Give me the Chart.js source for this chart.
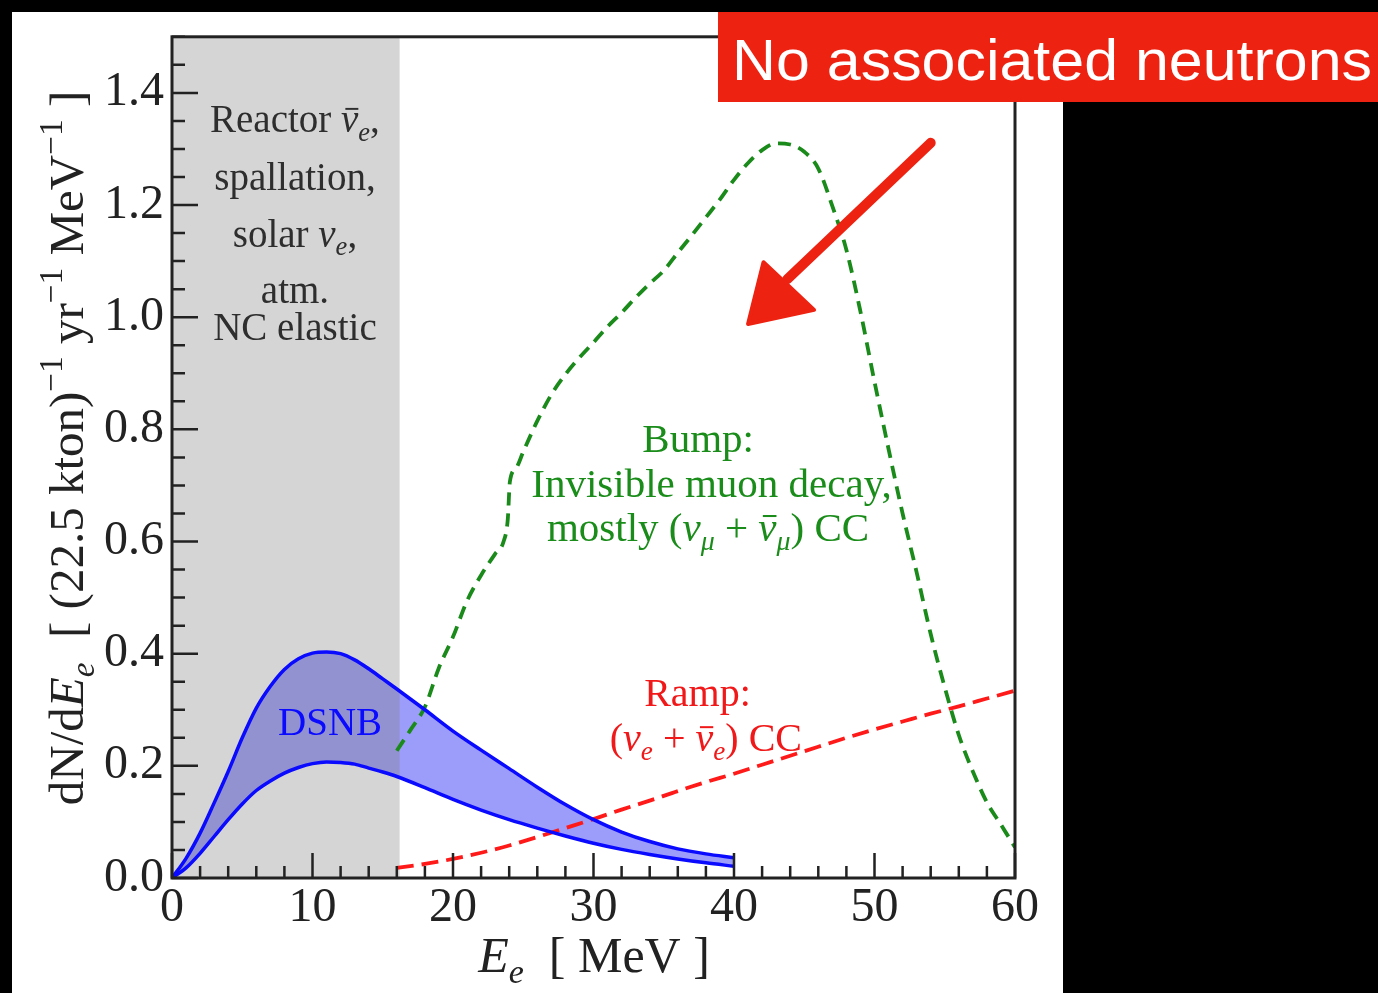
<!DOCTYPE html>
<html>
<head>
<meta charset="utf-8">
<title>Event spectra</title>
<script src="https://cdn.jsdelivr.net/npm/chart.js@4.4.1/dist/chart.umd.min.js"></script>
<style>
  html, body { margin: 0; padding: 0; background: #000; }
  #myChart { display: block; }
</style>
</head>
<body>
<canvas id="myChart" width="1378" height="993"></canvas>
<script>
// Positron energy grid (MeV) and rates for the DSNB band
const dsnbE    = [0, 1, 2, 3, 4, 5, 6, 7, 8, 9, 10, 11, 12, 13, 14, 15, 16, 18, 20, 22, 24, 26, 28, 30, 32, 34, 36, 38, 40];
const dsnbHigh = [0, 0.035, 0.080, 0.134, 0.190, 0.250, 0.303, 0.342, 0.372, 0.391, 0.401, 0.403, 0.400, 0.389, 0.373, 0.355, 0.337,
                  0.300, 0.262, 0.228, 0.195, 0.162, 0.131, 0.104, 0.082, 0.065, 0.052, 0.043, 0.036];
const dsnbLow  = [0, 0.018, 0.044, 0.074, 0.104, 0.132, 0.156, 0.173, 0.187, 0.197, 0.204, 0.207, 0.206, 0.203, 0.196, 0.189, 0.181,
                  0.161, 0.140, 0.121, 0.104, 0.089, 0.075, 0.062, 0.051, 0.042, 0.034, 0.027, 0.021];

// Invisible muon decay bump
const bumpE    = [16, 17, 18, 19, 20, 21, 22, 23, 23.6, 23.9, 24.05, 24.5, 25, 26, 27, 28, 29, 30, 31, 32, 33, 34, 35, 36, 37, 38, 39,
                  40, 41, 42, 43, 44, 45, 46, 47, 48, 49, 50, 51, 52, 53, 54, 55, 56, 57, 58, 59, 60];
const bumpRate = [0.227, 0.265, 0.305, 0.375, 0.430, 0.494, 0.540, 0.578, 0.600, 0.640, 0.707, 0.731, 0.760, 0.815, 0.862, 0.898,
                  0.928, 0.955, 0.983, 1.008, 1.035, 1.060, 1.083, 1.115, 1.146, 1.178, 1.210, 1.245, 1.275, 1.298, 1.310, 1.308,
                  1.295, 1.265, 1.198, 1.120, 1.010, 0.885, 0.765, 0.650, 0.545, 0.435, 0.340, 0.255, 0.190, 0.135, 0.095, 0.055];

// Atmospheric (nu_e + nubar_e) CC ramp
const rampE    = [16, 18, 20, 22, 24, 26, 28, 30, 32, 34, 36, 38, 40, 42, 44, 46, 48, 50, 52, 54, 56, 58, 60];
const rampRate = [0.018, 0.025, 0.034, 0.045, 0.058, 0.073, 0.089, 0.105, 0.122, 0.138, 0.155, 0.171, 0.186, 0.202, 0.218,
                  0.234, 0.250, 0.265, 0.279, 0.293, 0.306, 0.320, 0.334];

// Axes
const xTickValues = [0, 10, 20, 30, 40, 50, 60];
const yTickValues = [0, 0.2, 0.4, 0.6, 0.8, 1.0, 1.2, 1.4];
const xMinorStep = 2;
const yMinorStep = 0.05;
const xMax = 60;
const yMax = 1.5;
const shadedUpTo = 16.2; // background-dominated region

const SERIF = '"Liberation Serif", "Times New Roman", serif';

function toPoints(xs, ys) {
  return xs.map((x, i) => ({ x: x, y: ys[i] }));
}

// --- rich text (italic, sub/superscript, overbar) ---
function fontFor(s, size) {
  const sz = (s.sub || s.sup) ? size * 0.68 : size;
  return (s.it ? 'italic ' : '') + sz.toFixed(1) + 'px ' + SERIF;
}
function richWidth(ctx, segs, size) {
  let w = 0;
  segs.forEach(s => { ctx.font = fontFor(s, size); w += ctx.measureText(s.t).width; });
  return w;
}
function drawRich(ctx, segs, x, y, size, color) {
  const w = richWidth(ctx, segs, size);
  let cx = x - w / 2;
  ctx.fillStyle = color;
  ctx.strokeStyle = color;
  ctx.textAlign = 'left';
  ctx.textBaseline = 'alphabetic';
  segs.forEach(s => {
    ctx.font = fontFor(s, size);
    const sw = ctx.measureText(s.t).width;
    let dy = 0;
    if (s.sub) dy = size * 0.22;
    if (s.sup) dy = -size * 0.42;
    ctx.fillText(s.t, cx, y + dy);
    if (s.bar) {
      ctx.lineWidth = size * 0.05;
      ctx.beginPath();
      ctx.moveTo(cx + sw * 0.25, y - size * 0.6);
      ctx.lineTo(cx + sw * 1.0, y - size * 0.6);
      ctx.stroke();
    }
    cx += sw;
  });
}

const nu = { t: 'ν', it: true };
const nubar = { t: 'ν', it: true, bar: true };
const sub = t => ({ t: t, it: true, sub: true });
const txt = t => ({ t: t });

// labels placed in data coordinates (centre of each line)
const GREY_TXT = '#2e2e2e', GREEN = '#1a8c1a', RED = '#f01818', BLUE = '#0a0aff';
const notes = [
  { e: 8.75, v: 1.352, size: 39, color: GREY_TXT, segs: [txt('Reactor '), nubar, sub('e'), txt(',')] },
  { e: 8.75, v: 1.249, size: 39, color: GREY_TXT, segs: [txt('spallation,')] },
  { e: 8.75, v: 1.148, size: 39, color: GREY_TXT, segs: [txt('solar '), nu, sub('e'), txt(',')] },
  { e: 8.75, v: 1.048, size: 39, color: GREY_TXT, segs: [txt('atm.')] },
  { e: 8.75, v: 0.982, size: 39, color: GREY_TXT, segs: [txt('NC elastic')] },
  { e: 37.45, v: 0.783, size: 41, color: GREEN, segs: [txt('Bump:')] },
  { e: 38.4, v: 0.702, size: 41, color: GREEN, segs: [txt('Invisible muon decay,')] },
  { e: 38.15, v: 0.625, size: 41, color: GREEN, segs: [txt('mostly ('), nu, sub('μ'), txt(' + '), nubar, sub('μ'), txt(') CC')] },
  { e: 37.4, v: 0.330, size: 40, color: RED, segs: [txt('Ramp:')] },
  { e: 38.0, v: 0.249, size: 40, color: RED, segs: [txt('('), nu, sub('e'), txt(' + '), nubar, sub('e'), txt(') CC')] },
  { e: 11.25, v: 0.277, size: 39, color: BLUE, segs: [txt('DSNB')] }
];

// hand-drawn arrow, data coordinates
const arrowTail = { e: 54.0, v: 1.311 };
const arrowNeck = { e: 43.8, v: 1.068 };
const arrowHead = [{ e: 41.0, v: 0.988 }, { e: 42.1, v: 1.098 }, { e: 45.7, v: 1.013 }];

const figurePlugin = {
  id: 'figure',
  beforeDraw(chart) {
    const c = chart.ctx;
    c.save();
    c.fillStyle = '#000';
    c.fillRect(0, 0, chart.width, chart.height);
    c.fillStyle = '#fff';
    c.fillRect(12, 12, 1051, chart.height - 12);
    c.restore();
  },
  beforeDatasetsDraw(chart) {
    // shaded region laid over the band fill, under the curves
    const c = chart.ctx, a = chart.chartArea, xs = chart.scales.x;
    c.save();
    c.fillStyle = 'rgba(123,123,123,0.32)';
    const x0 = xs.getPixelForValue(0), x1 = xs.getPixelForValue(shadedUpTo);
    c.fillRect(x0, a.top, x1 - x0, a.bottom - a.top);
    c.restore();
  },
  afterDatasetsDraw(chart) {
    const c = chart.ctx, a = chart.chartArea, xs = chart.scales.x, ys = chart.scales.y;
    c.save();
    // inward ticks
    c.strokeStyle = '#222';
    c.lineWidth = 2.5;
    c.beginPath();
    for (let v = 0; v <= xMax + 1e-9; v += xMinorStep) {
      const px = xs.getPixelForValue(v);
      const major = xTickValues.some(t => Math.abs(t - v) < 1e-6);
      c.moveTo(px, a.bottom);
      c.lineTo(px, a.bottom - (major ? 25 : 12));
    }
    for (let i = 0; i * yMinorStep <= yMax + 1e-9; i++) {
      const v = i * yMinorStep;
      const py = ys.getPixelForValue(v);
      const major = yTickValues.some(t => Math.abs(t - v) < 1e-6);
      c.moveTo(a.left, py);
      c.lineTo(a.left + (major ? 26 : 13), py);
    }
    c.stroke();
    // frame
    c.lineWidth = 3;
    c.strokeRect(a.left, a.top, a.right - a.left, a.bottom - a.top);
    // labels inside the plot
    notes.forEach(n => {
      const px = xs.getPixelForValue(n.e), py = ys.getPixelForValue(n.v);
      drawRich(c, n.segs, px, py + n.size * 0.32, n.size, n.color);
    });
    c.restore();
  },
  afterDraw(chart) {
    const c = chart.ctx, xs = chart.scales.x, ys = chart.scales.y;
    c.save();
    // axis titles
    drawRich(c, [{ t: 'E', it: true }, sub('e'), txt('  [ MeV ]')], 594, 972, 50, '#222');
    c.translate(83, 448);
    c.rotate(-Math.PI / 2);
    drawRich(c, [txt('dN/d'), { t: 'E', it: true }, sub('e'), txt('  [ (22.5 kton)'), { t: '−1', sup: true },
                 txt(' yr'), { t: '−1', sup: true }, txt(' MeV'), { t: '−1', sup: true }, txt(' ]')], 0, 0, 49, '#222');
    c.setTransform(1, 0, 0, 1, 0, 0);

    // arrow
    const P = p => [xs.getPixelForValue(p.e), ys.getPixelForValue(p.v)];
    const t = P(arrowTail), n = P(arrowNeck);
    c.strokeStyle = '#ee2211';
    c.fillStyle = '#ee2211';
    c.lineCap = 'round';
    c.lineWidth = 10;
    c.beginPath();
    c.moveTo(t[0], t[1]);
    c.lineTo(n[0], n[1]);
    c.stroke();
    c.lineJoin = 'round';
    c.lineWidth = 4;
    c.beginPath();
    arrowHead.forEach((p, i) => { const q = P(p); if (i) c.lineTo(q[0], q[1]); else c.moveTo(q[0], q[1]); });
    c.closePath();
    c.fill();
    c.stroke();

    // banner
    c.fillStyle = '#ee2211';
    c.fillRect(718, 12, chart.width - 718, 90);
    c.fillStyle = '#fff';
    c.font = '57px "Liberation Sans", Arial, sans-serif';
    c.textAlign = 'left';
    c.textBaseline = 'alphabetic';
    const label = 'No associated neutrons';
    const w = c.measureText(label).width;
    c.translate(732, 80);
    c.scale(640 / w, 1);
    c.fillText(label, 0, 0);
    c.restore();
  }
};

const ctx = document.getElementById('myChart');

new Chart(ctx, {
  type: 'line',
  data: {
    datasets: [
      {
        label: 'DSNB upper',
        data: toPoints(dsnbE, dsnbHigh),
        borderColor: BLUE,
        borderWidth: 3.5,
        backgroundColor: 'rgba(0,0,242,0.39)',
        fill: '+1',
        pointRadius: 0,
        cubicInterpolationMode: 'monotone'
      },
      {
        label: 'DSNB lower',
        data: toPoints(dsnbE, dsnbLow),
        borderColor: BLUE,
        borderWidth: 3.5,
        fill: false,
        pointRadius: 0,
        cubicInterpolationMode: 'monotone'
      },
      {
        label: 'Bump',
        data: toPoints(bumpE, bumpRate),
        borderColor: '#1a8a1a',
        borderWidth: 3.8,
        borderDash: [13, 8],
        fill: false,
        pointRadius: 0,
        cubicInterpolationMode: 'monotone'
      },
      {
        label: 'Ramp',
        data: toPoints(rampE, rampRate),
        borderColor: '#ff1a1a',
        borderWidth: 3.8,
        borderDash: [17, 8],
        fill: false,
        pointRadius: 0,
        cubicInterpolationMode: 'monotone'
      }
    ]
  },
  options: {
    responsive: false,
    animation: false,
    devicePixelRatio: 1,
    layout: { padding: { left: 12, right: 363, top: 34, bottom: 0 } },
    plugins: {
      legend: { display: false },
      tooltip: { enabled: false },
      filler: { drawTime: 'beforeDatasetsDraw' }
    },
    scales: {
      x: {
        type: 'linear',
        min: 0,
        max: xMax,
        grid: { display: false, drawTicks: false },
        border: { display: false },
        afterBuildTicks: scale => { scale.ticks = xTickValues.map(v => ({ value: v })); },
        afterFit: scale => { scale.height = 115; },
        ticks: {
          padding: 2,
          color: '#222',
          font: { family: SERIF, size: 48 },
          maxRotation: 0,
          callback: v => String(v)
        }
      },
      y: {
        type: 'linear',
        min: 0,
        max: yMax,
        grid: { display: false, drawTicks: false },
        border: { display: false },
        afterBuildTicks: scale => { scale.ticks = yTickValues.map(v => ({ value: v })); },
        afterFit: scale => { scale.width = 160; },
        ticks: {
          padding: 8,
          color: '#222',
          font: { family: SERIF, size: 48 },
          callback: v => v.toFixed(1)
        }
      }
    }
  },
  plugins: [figurePlugin]
});
</script>
</body>
</html>
